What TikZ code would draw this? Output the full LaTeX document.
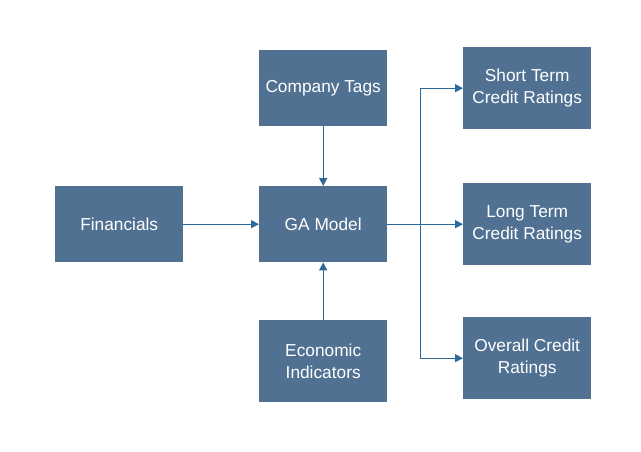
\documentclass[tikz,border=0pt]{standalone}
\usepackage{fontspec}
\setmainfont{Liberation Sans}
\usetikzlibrary{arrows.meta}
\definecolor{boxfill}{HTML}{517192}
\definecolor{linec}{HTML}{2B6A9B}
\begin{document}
\begin{tikzpicture}[x=1pt,y=-1pt,
  box/.style={fill=boxfill,draw=none,text=white,anchor=north west,inner sep=0pt,
    minimum width=128pt,align=center,font=\fontsize{17.3}{21.5}\selectfont},
  conn/.style={draw=linec,line width=1.3pt,-{Triangle[length=8pt,width=8pt]}}]
\useasboundingbox[fill=white] (0,0) rectangle (641,451);
\node[box,minimum height=76pt] (fin) at (55,186) {Financials};
\node[box,minimum height=76pt] (ga) at (259,186) {GA Model};
\node[box,minimum height=76pt] (ct) at (259,50) {Company Tags};
\node[box,minimum height=82pt] (ei) at (259,320) {Economic\\Indicators};
\node[box,minimum height=82pt] (st) at (463,47) {Short Term\\Credit Ratings};
\node[box,minimum height=82pt] (lt) at (463,183) {Long Term\\Credit Ratings};
\node[box,minimum height=82pt] (ov) at (463,317) {Overall Credit\\Ratings};
\coordinate (j) at (420.5,224);
\draw[conn] (fin.east) -- (ga.west);
\draw[conn] (ct.south) -- (ga.north);
\draw[conn] (ei.north) -- (ga.south);
\draw[conn] (ga.east) -- (lt.west);
\draw[conn] (j) |- (st.west);
\draw[conn] (j) |- (ov.west);
\end{tikzpicture}
\end{document}
